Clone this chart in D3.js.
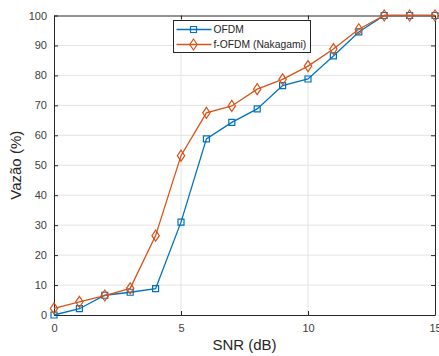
<!DOCTYPE html>
<html lang="pt">
<head>
  <meta charset="UTF-8"/>
  <title>Vazão x SNR</title>
  <style>
    *{margin:0;padding:0}
    body{background:#fff;font-family:"Liberation Sans",Arial,sans-serif}
    svg{display:block}
  </style>
</head>
<body>
  <div id="chart"></div>
  <script src="https://d3js.org/d3.v7.min.js"></script>
  <script>
    // SNR points (dB)
    const snr = [0,1,2,3,4,5,6,7,8,9,10,11,12,13,14,15];
    // throughput (%)
    const ofdm  = [0,2.1,6.6,7.6,8.8,31.0,58.8,64.3,68.8,76.6,78.8,86.5,94.5,100,100,100];
    const fofdm = [2.2,4.4,6.5,8.9,26.5,53.2,67.5,69.8,75.4,78.7,83.1,88.8,95.4,100,100,100];
    const xTicks = [0,5,10,15];
    const yTicks = [0,10,20,30,40,50,60,70,80,90,100];
    const seriesNames = ['OFDM','f-OFDM (Nakagami)'];

    const W=439, H=356;
    const m = {l:54, r:4, t:15.5, b:41};
    const svg = d3.select('#chart').append('svg').attr('width',W).attr('height',H);

    const x = d3.scaleLinear().domain([0,15]).range([m.l, W-m.r]);
    const y = d3.scaleLinear().domain([0,100]).range([H-m.b, m.t]);

    // grid
    svg.append('g').selectAll('line').data(xTicks.slice(1,-1)).join('line')
      .attr('x1',d=>x(d)).attr('x2',d=>x(d)).attr('y1',y(0)).attr('y2',y(100))
      .attr('stroke','#e3e3e3').attr('stroke-width',1);
    svg.append('g').selectAll('line').data(yTicks.slice(1,-1)).join('line')
      .attr('x1',x(0)).attr('x2',x(15)).attr('y1',d=>y(d)).attr('y2',d=>y(d))
      .attr('stroke','#e3e3e3').attr('stroke-width',1);

    // axes (ticks inward, box on)
    const axStyle = g => {
      g.select('.domain').attr('stroke','#262626');
      g.selectAll('.tick line').attr('stroke','#262626');
      g.selectAll('.tick text').attr('fill','#404040').style('font-size','11px')
        .style('font-family','"Liberation Sans",Arial,sans-serif');
    };
    svg.append('g').attr('transform',`translate(0,${y(0)})`)
      .call(d3.axisBottom(x).tickValues(xTicks).tickSizeInner(-4).tickSizeOuter(0).tickPadding(9))
      .call(axStyle);
    svg.append('g').attr('transform',`translate(0,${y(100)})`)
      .call(d3.axisTop(x).tickValues(xTicks).tickSizeInner(-4).tickSizeOuter(0).tickFormat(''))
      .call(axStyle);
    svg.append('g').attr('transform',`translate(${x(0)},0)`)
      .call(d3.axisLeft(y).tickValues(yTicks).tickSizeInner(-4).tickSizeOuter(0).tickPadding(7))
      .call(axStyle);
    svg.append('g').attr('transform',`translate(${x(15)},0)`)
      .call(d3.axisRight(y).tickValues(yTicks).tickSizeInner(-4).tickSizeOuter(0).tickFormat(''))
      .call(axStyle);

    // labels
    svg.append('text').attr('x',(x(0)+x(15))/2).attr('y',350).attr('text-anchor','middle')
      .attr('fill','#262626').style('font-size','15px').text('SNR (dB)');
    svg.append('text').attr('transform',`translate(21,${(y(0)+y(100))/2}) rotate(-90)`)
      .attr('text-anchor','middle').attr('fill','#262626').style('font-size','15px').text('Vazão (%)');

    const colors = ['#0072BD','#D95319'];
    const data = [ofdm, fofdm];
    const line = d3.line().x((d,i)=>x(snr[i])).y(d=>y(d));
    const sq = d3.symbol().type(d3.symbolSquare).size(36);
    const dm = (cx,cy)=>`M${cx},${cy-5.5}L${cx+3.7},${cy}L${cx},${cy+5.5}L${cx-3.7},${cy}Z`;

    data.forEach((vals,k)=>{
      const g = svg.append('g');
      g.append('path').datum(vals).attr('d',line).attr('fill','none')
        .attr('stroke',colors[k]).attr('stroke-width',1.3);
      g.selectAll('path.mk').data(vals).join('path').attr('class','mk')
        .attr('d',(d,i)=> k===0 ? sq() : dm(0,0))
        .attr('transform',(d,i)=>`translate(${x(snr[i])},${y(d)})`)
        .attr('fill','none').attr('stroke',colors[k]).attr('stroke-width',1.2);
    });

    // legend
    const lg = svg.append('g');
    lg.append('rect').attr('x',173.5).attr('y',20.5).attr('width',137).attr('height',32)
      .attr('fill','#fff').attr('stroke','#262626').attr('stroke-width',1);
    seriesNames.forEach((name,k)=>{
      const ly = 29.5 + k*15;
      lg.append('line').attr('x1',176.5).attr('x2',211.5).attr('y1',ly).attr('y2',ly)
        .attr('stroke',colors[k]).attr('stroke-width',1.3);
      lg.append('path').attr('d', k===0 ? sq() : dm(0,0))
        .attr('transform',`translate(193.5,${ly})`)
        .attr('fill','none').attr('stroke',colors[k]).attr('stroke-width',1.2);
      lg.append('text').attr('x',213.5).attr('y',ly+3.8).attr('fill','#262626')
        .style('font-size','10.3px').text(name);
    });
  </script>
</body>
</html>
